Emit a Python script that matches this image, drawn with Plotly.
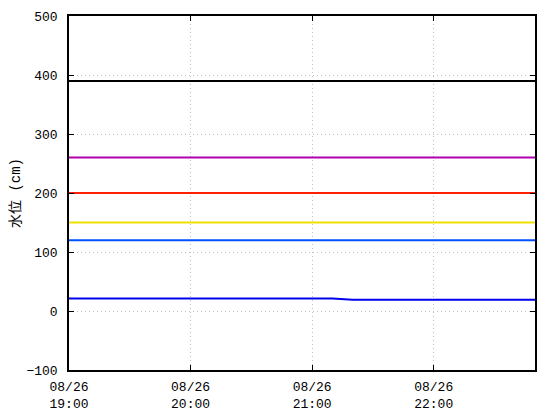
import plotly.graph_objects as go
import pandas as pd

times = pd.date_range("2024-08-26 19:00", "2024-08-26 22:50", freq="10min")
water_level = [21, 21, 21, 21, 21, 21, 21, 21, 21, 21, 21, 21, 21, 21,
               19, 19, 19, 19, 19, 19, 19, 19, 19, 19]
thresholds = [390, 260, 200, 150, 120]
threshold_colors = ["#000000", "#b000b0", "#ff2000", "#f0e000", "#0050ff"]
tick_vals = pd.date_range("2024-08-26 19:00", "2024-08-26 22:00", freq="1h")
tick_text = ["08/26<br>19:00", "08/26<br>20:00", "08/26<br>21:00", "08/26<br>22:00"]
y_ticks = [-100, 0, 100, 200, 300, 400, 500]

x_end = pd.Timestamp("2024-08-26 22:50")
fig = go.Figure()
for v, c in zip(thresholds, threshold_colors):
    fig.add_trace(go.Scatter(x=[times[0], x_end], y=[v, v], mode="lines",
                             line=dict(color=c, width=2), showlegend=False))
fig.add_trace(go.Scatter(x=times, y=water_level, mode="lines",
                         line=dict(color="#0000ee", width=2), showlegend=False))

font = "Liberation Mono, Noto Sans CJK JP"
fig.update_layout(
    width=552, height=412,
    margin=dict(l=61, r=25, t=8, b=50),
    paper_bgcolor="white", plot_bgcolor="white",
    font=dict(family=font, size=13, color="black"),
)
grid = dict(showgrid=True, gridcolor="#c0c0c0", griddash="1px,3px", gridwidth=1,
            showline=True, linecolor="black", linewidth=1.5, mirror="ticks",
            ticks="inside", ticklen=5, tickcolor="black", zeroline=False,
            automargin=False)
fig.update_xaxes(range=[times[0], x_end], tickvals=tick_vals, ticktext=tick_text,
                 ticklabelstandoff=4, **grid)
fig.update_yaxes(range=[-100, 500], tickvals=y_ticks, ticklabelstandoff=7,
                 title=dict(text="水位 (cm)", standoff=10,
                            font=dict(family=font, size=14)),
                 **grid)
fig.write_html("out.html")
